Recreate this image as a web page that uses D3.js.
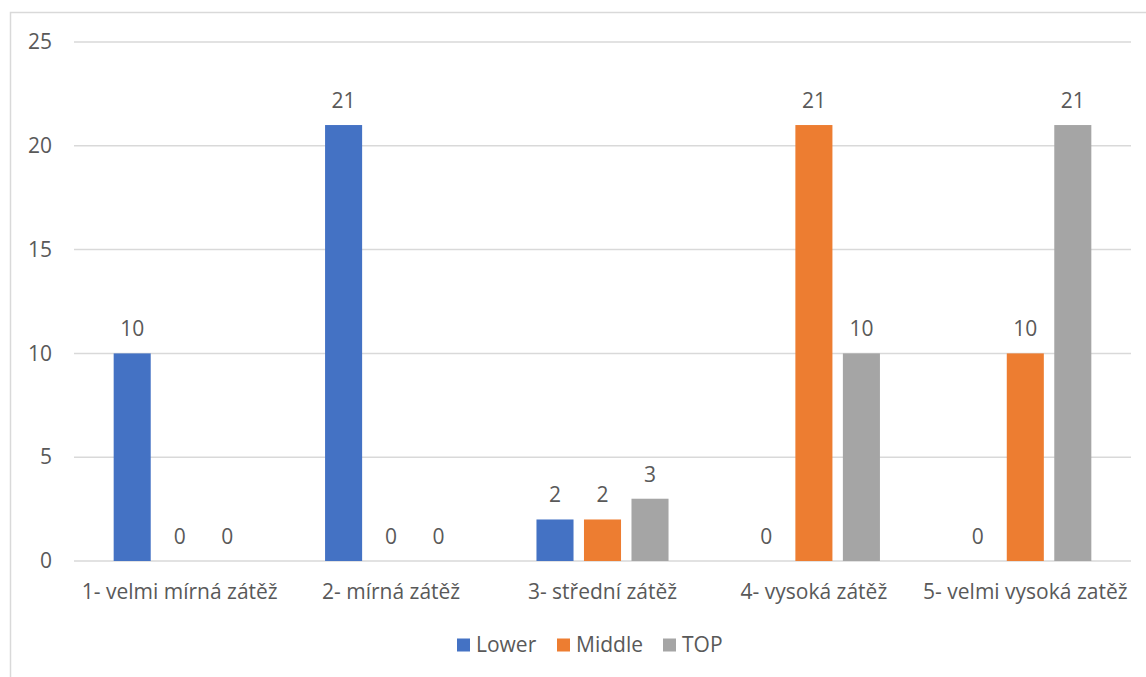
<!DOCTYPE html>
<html>
<head>
<meta charset="utf-8">
<script src="https://cdn.jsdelivr.net/npm/d3@7"></script>
<style>
  html, body { margin: 0; padding: 0; background: #fff; }
  svg { display: block; font-family: "Open Sans", sans-serif; }
</style>
</head>
<body>
<svg id="chart" width="1146" height="677"></svg>
<script>
// Workload categories and counts per group
const categories = ["1- velmi mírná zátěž", "2- mírná zátěž", "3- střední zátěž", "4- vysoká zátěž", "5- velmi vysoká zatěž"];
const seriesNames = ["Lower", "Middle", "TOP"];
const lowerValues = [10, 21, 2, 0, 0];
const middleValues = [0, 0, 2, 21, 10];
const topValues = [0, 0, 3, 10, 21];
const yTicks = [0, 5, 10, 15, 20, 25];
const colors = ["#4472C4", "#ED7D31", "#A5A5A5"];

const series = [lowerValues, middleValues, topValues];
const rows = categories.map((c, i) => ({
  category: c,
  values: seriesNames.map((s, j) => ({ key: s, value: series[j][i], color: colors[j] }))
}));

const svg = d3.select("#chart");
const textColor = "#595959";
const gridColor = "#D9D9D9";
const fontFamily = "'Open Sans', sans-serif";
const fontSize = 21;

// Chart frame (open to the right and bottom edge)
svg.append("rect")
  .attr("x", 10.5).attr("y", 12.5)
  .attr("width", 1160).attr("height", 700)
  .attr("fill", "none").attr("stroke", gridColor).attr("stroke-width", 1.5);

const plot = { left: 74, right: 1131, top: 42, bottom: 561 };

const x0 = d3.scaleBand().domain(categories).range([plot.left, plot.right]).padding(0);
const x1 = d3.scaleBand().domain(seriesNames).range([0, x0.bandwidth()])
  .paddingInner(0.22).paddingOuter(0.835);
const y = d3.scaleLinear().domain([0, 25]).range([plot.bottom, plot.top]);

// Horizontal gridlines
svg.append("g")
  .selectAll("line")
  .data(yTicks)
  .join("line")
  .attr("x1", plot.left).attr("x2", plot.right)
  .attr("y1", d => y(d)).attr("y2", d => y(d))
  .attr("stroke", gridColor).attr("stroke-width", 1.5);

// Y axis tick labels
const yAxis = d3.axisLeft(y).tickValues(yTicks).tickSize(0).tickPadding(22);
const yg = svg.append("g").attr("transform", `translate(${plot.left},0)`).call(yAxis);
yg.select(".domain").remove();
yg.selectAll("text").attr("font-size", fontSize).attr("fill", textColor).attr("font-family", fontFamily);

// X axis category labels
const xAxis = d3.axisBottom(x0).tickSize(0).tickPadding(23);
const xg = svg.append("g").attr("transform", `translate(0,${plot.bottom})`).call(xAxis);
xg.select(".domain").remove();
xg.selectAll("text").attr("font-size", fontSize).attr("fill", textColor).attr("font-family", fontFamily);

// Bars and value labels
const groups = svg.append("g")
  .selectAll("g")
  .data(rows)
  .join("g")
  .attr("transform", d => `translate(${x0(d.category)},0)`);

groups.selectAll("rect")
  .data(d => d.values)
  .join("rect")
  .attr("x", d => x1(d.key))
  .attr("y", d => y(d.value))
  .attr("width", x1.bandwidth())
  .attr("height", d => y(0) - y(d.value))
  .attr("fill", d => d.color);

groups.selectAll("text")
  .data(d => d.values)
  .join("text")
  .attr("x", d => x1(d.key) + x1.bandwidth() / 2)
  .attr("y", d => y(d.value) - 17)
  .attr("text-anchor", "middle")
  .attr("font-size", fontSize)
  .attr("fill", textColor)
  .text(d => d.value);

// Legend
const legendX = [457, 557, 663];
const legend = svg.append("g")
  .selectAll("g")
  .data(seriesNames)
  .join("g")
  .attr("transform", (d, i) => `translate(${legendX[i]},645)`);
legend.append("rect")
  .attr("x", 0).attr("y", -6.5).attr("width", 13).attr("height", 13)
  .attr("fill", (d, i) => colors[i]);
legend.append("text")
  .attr("x", 19).attr("y", 0).attr("dy", "0.35em")
  .attr("font-size", fontSize).attr("fill", textColor)
  .text(d => d);
</script>
</body>
</html>
